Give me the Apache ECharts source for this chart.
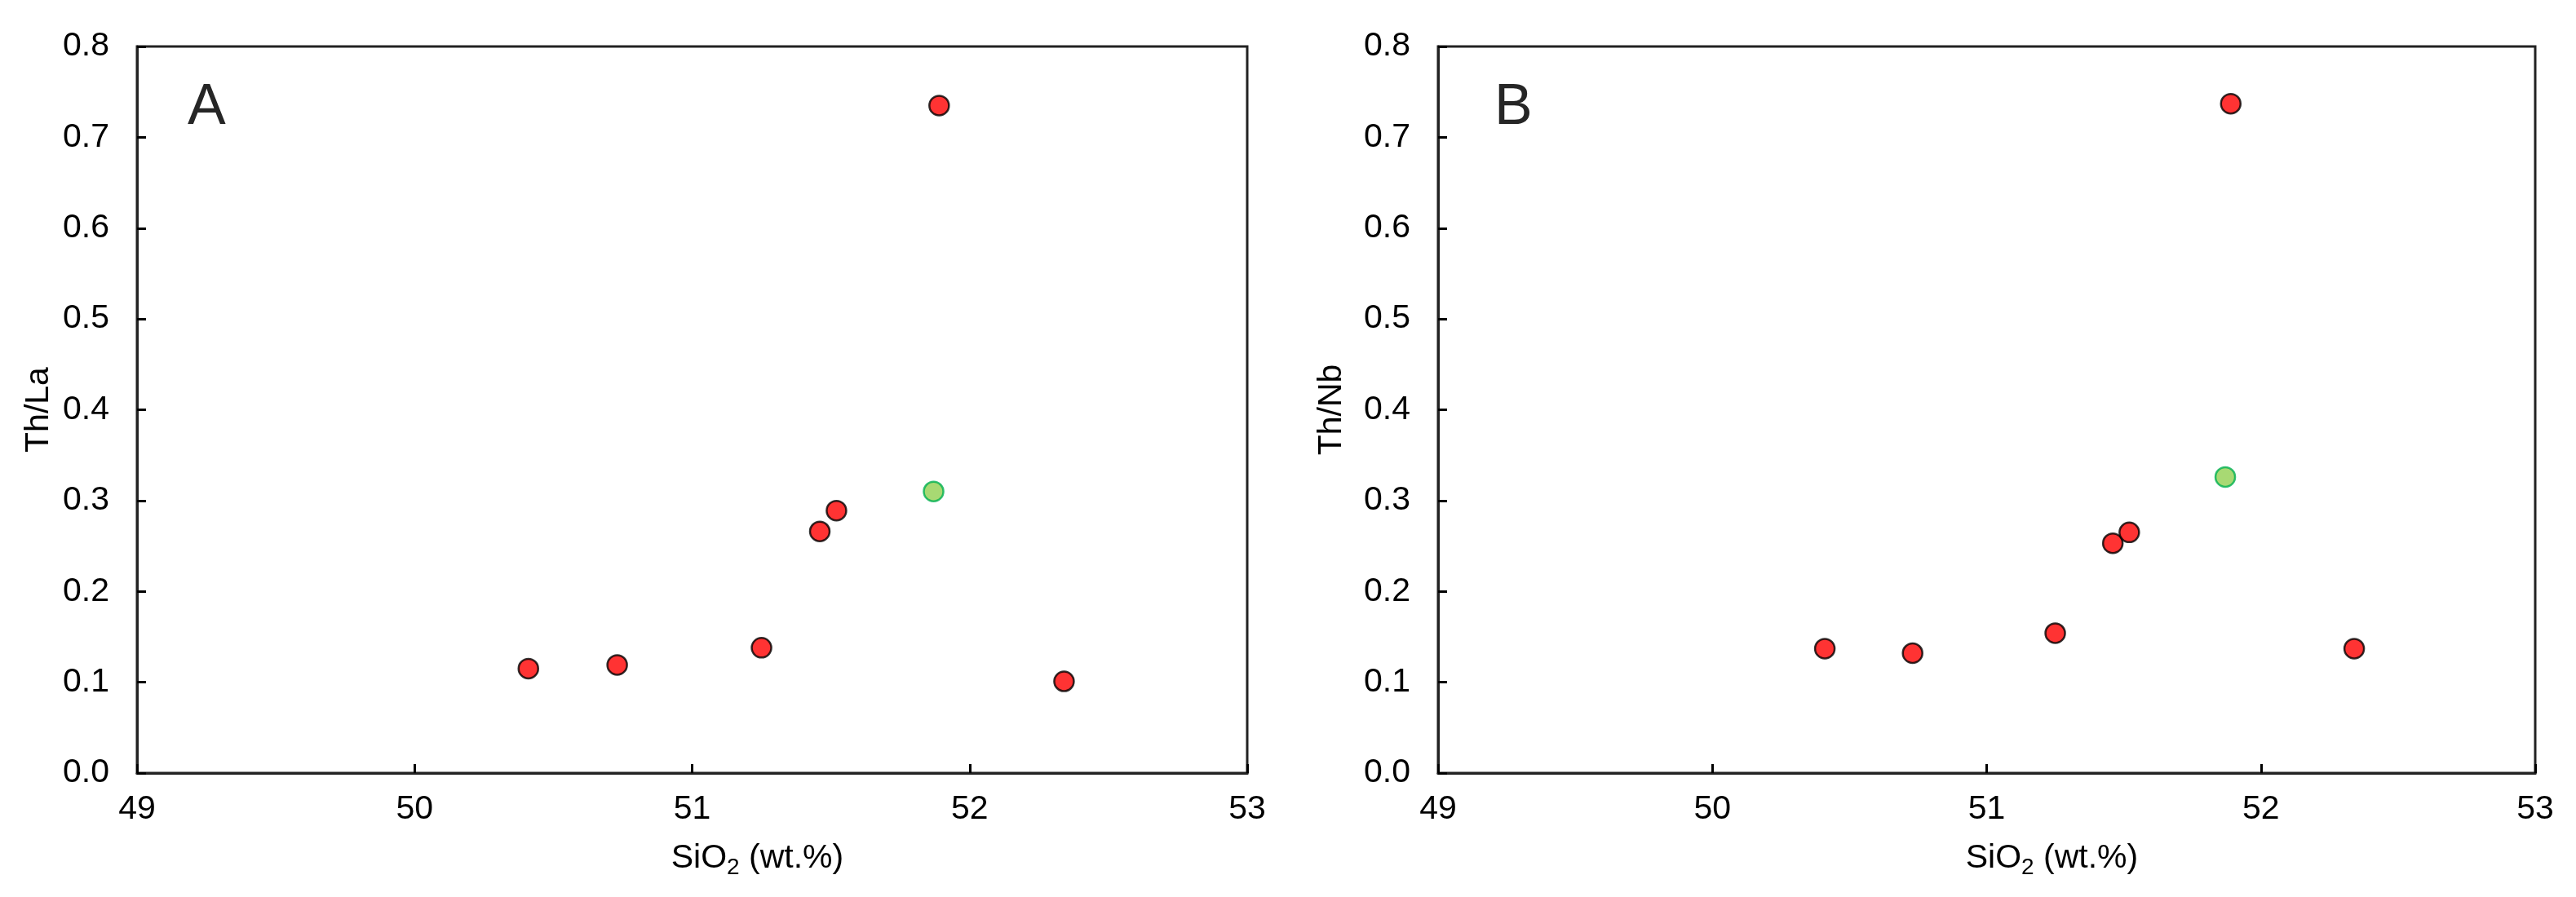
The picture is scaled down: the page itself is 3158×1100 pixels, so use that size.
<!DOCTYPE html>
<html>
<head>
<meta charset="utf-8">
<title>Th/La and Th/Nb vs SiO2</title>
<script src="https://cdn.jsdelivr.net/npm/echarts@6/dist/echarts.min.js"></script>
<style>
  html, body { margin: 0; padding: 0; background: #fff; }
  #chart { width: 3158px; height: 1100px; }
</style>
</head>
<body>
<div id="chart"></div>
<script>
// x values (SiO2 wt.%) for the red samples, and the single green sample
var sio2Red = [50.41, 50.73, 51.25, 51.46, 51.52, 51.89, 52.34];
var sio2Green = [51.87];

// panel A: Th/La
var thLaRed = [0.115, 0.119, 0.138, 0.266, 0.289, 0.735, 0.101];
var thLaGreen = [0.310];

// panel B: Th/Nb
var thNbRed = [0.137, 0.132, 0.154, 0.253, 0.265, 0.737, 0.137];
var thNbGreen = [0.326];

var xTicks = [49, 50, 51, 52, 53];
var yTicks = [0.0, 0.1, 0.2, 0.3, 0.4, 0.5, 0.6, 0.7, 0.8];
var panelLabels = ['A', 'B'];
var yNames = ['Th/La', 'Th/Nb'];

function pairs(xs, ys) {
  return xs.map(function (x, i) { return [x, ys[i]]; });
}

var font = "'Liberation Sans Narrow', 'Arial Narrow', 'Liberation Sans', Arial, sans-serif";
var axisColor = '#222';

function xAxisFor(idx) {
  return {
    type: 'value',
    gridIndex: idx,
    min: xTicks[0],
    max: xTicks[xTicks.length - 1],
    interval: 1,
    name: '{a|SiO}{b|2}{a| (wt.%)}',
    nameLocation: 'middle',
    nameGap: 80,
    nameTextStyle: {
      padding: [0, 0, 0, 160],
      rich: {
        a: { fontFamily: font, fontSize: 41, color: '#000' },
        b: { fontFamily: font, fontSize: 28, color: '#000', padding: [22, 0, 0, 0] }
      }
    },
    axisLine: { show: true, onZero: false, lineStyle: { color: axisColor, width: 3 } },
    axisTick: { show: true, inside: true, length: 11, lineStyle: { color: '#000', width: 3 } },
    axisLabel: { margin: 24, fontFamily: font, fontSize: 41, color: '#000' },
    splitLine: { show: false }
  };
}

function yAxisFor(idx) {
  return {
    type: 'value',
    gridIndex: idx,
    min: yTicks[0],
    max: yTicks[yTicks.length - 1],
    interval: 0.1,
    name: yNames[idx],
    nameLocation: 'middle',
    nameGap: idx === 0 ? 100 : 110,
    nameTextStyle: { fontFamily: font, fontSize: 41, color: '#000' },
    axisLine: { show: true, onZero: false, lineStyle: { color: axisColor, width: 3 } },
    axisTick: { show: true, inside: true, length: 11, lineStyle: { color: '#000', width: 3 } },
    axisLabel: {
      margin: 34,
      fontFamily: font,
      fontSize: 41,
      color: '#000',
      formatter: function (v) { return v.toFixed(1); }
    },
    splitLine: { show: false }
  };
}

var redStyle = { color: '#ff0000', borderColor: '#000', borderWidth: 2.5 };
var greenStyle = { color: '#92d050', borderColor: '#00b050', borderWidth: 2.5 };

var chart = echarts.init(document.getElementById('chart'));
chart.setOption({
  backgroundColor: '#fff',
  animation: false,
  grid: [
    { left: 168, top: 57, width: 1361, height: 891, show: true, borderColor: axisColor, borderWidth: 3, backgroundColor: 'transparent' },
    { left: 1763, top: 57, width: 1345, height: 891, show: true, borderColor: axisColor, borderWidth: 3, backgroundColor: 'transparent' }
  ],
  xAxis: [xAxisFor(0), xAxisFor(1)],
  yAxis: [yAxisFor(0), yAxisFor(1)],
  graphic: [
    { type: 'text', left: 230, top: 98, style: { text: panelLabels[0], fontFamily: "'Liberation Sans', Arial, sans-serif", fontSize: 70, fill: '#262626' } },
    { type: 'text', left: 1832, top: 98, style: { text: panelLabels[1], fontFamily: "'Liberation Sans', Arial, sans-serif", fontSize: 70, fill: '#262626' } }
  ],
  series: [
    { type: 'scatter', xAxisIndex: 0, yAxisIndex: 0, symbol: 'circle', symbolSize: 24, itemStyle: redStyle, data: pairs(sio2Red, thLaRed) },
    { type: 'scatter', xAxisIndex: 0, yAxisIndex: 0, symbol: 'circle', symbolSize: 24, itemStyle: greenStyle, data: pairs(sio2Green, thLaGreen) },
    { type: 'scatter', xAxisIndex: 1, yAxisIndex: 1, symbol: 'circle', symbolSize: 24, itemStyle: redStyle, data: pairs(sio2Red, thNbRed) },
    { type: 'scatter', xAxisIndex: 1, yAxisIndex: 1, symbol: 'circle', symbolSize: 24, itemStyle: greenStyle, data: pairs(sio2Green, thNbGreen) }
  ]
});
</script>
</body>
</html>
